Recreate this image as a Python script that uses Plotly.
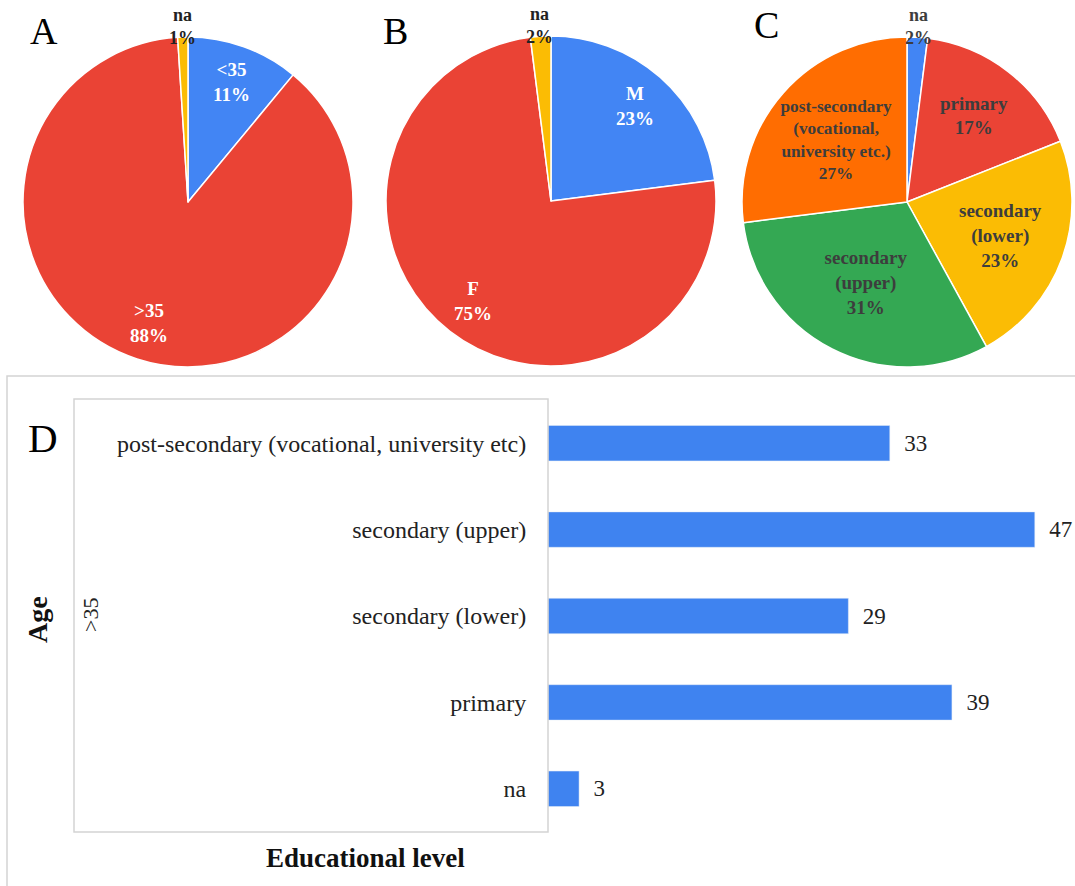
import math
import plotly.graph_objects as go

# ---- data ----
age_labels = ["<35", ">35", "na"]
age_values = [11, 88, 1]

sex_labels = ["M", "F", "na"]
sex_values = [23, 75, 2]

edu_labels = ["na", "primary", "secondary (lower)", "secondary (upper)",
              "post-secondary (vocational, university etc.)"]
edu_text = ["na", "primary", "secondary<br>(lower)", "secondary<br>(upper)",
            "post-secondary<br>(vocational,<br>university etc.)"]
edu_values = [2, 17, 23, 31, 27]

bar_categories = ["post-secondary (vocational, university etc)", "secondary (upper)",
                  "secondary (lower)", "primary", "na"]
bar_values = [33, 47, 29, 39, 3]

# ---- layout helpers ----
W, H = 1075, 886
BLUE, RED, YEL, GRN, ORG = "#4285F4", "#EA4335", "#FBBC04", "#34A853", "#FF6D01"
SERIF = "Liberation Serif"
R = 165


def dom(cx, cy, r):
    return dict(x=[(cx - r) / W, (cx + r) / W], y=[(H - cy - r) / H, (H - cy + r) / H])


def slice_labels(values, labels, cx, cy, frac_in, frac_out, colors, outside, show):
    """Label annotations placed at each slice's mid-angle (clockwise from 12 o'clock)."""
    total = float(sum(values))
    out = []
    cum = 0.0
    for v, lab, col, so, sh in zip(values, labels, colors, outside, show):
        mid = (cum + v / 2.0) / total * 2 * math.pi
        cum += v
        if not sh:
            continue
        f = frac_out if so else frac_in
        x = cx + f * (R - 2) * math.sin(mid)
        y = cy - f * (R - 2) * math.cos(mid)
        out.append(dict(text=f"<b>{lab}<br>{v}%</b>", x=x / W, y=(H - y) / H,
                        xref="paper", yref="paper", showarrow=False,
                        xanchor="center", yanchor="middle",
                        font=dict(family=SERIF, size=18 if so else 19, color=col)))
    return out


fig = go.Figure()

pie_common = dict(sort=False, direction="clockwise", rotation=0, showlegend=False,
                  marker_line_color="white", marker_line_width=1.5,
                  hoverinfo="label+value")

fig.add_trace(go.Pie(labels=age_labels, values=age_values, domain=dom(188, 202, R),
                     marker_colors=[BLUE, RED, YEL], textinfo="none", **pie_common))

fig.add_trace(go.Pie(labels=sex_labels, values=sex_values, domain=dom(551, 201, R),
                     marker_colors=[BLUE, RED, YEL], textinfo="none", **pie_common))

fig.add_trace(go.Pie(labels=edu_labels, values=edu_values, text=edu_text,
                     domain=dom(907, 202, R),
                     marker_colors=[BLUE, RED, YEL, GRN, ORG],
                     texttemplate="<b>%{text}<br>%{value}%</b>",
                     textposition=["none", "inside", "inside", "inside", "inside"],
                     insidetextorientation="horizontal",
                     textfont=dict(family=SERIF, size=19, color="#3d3d3d"),
                     **pie_common))

fig.add_trace(go.Bar(y=bar_categories, x=bar_values, orientation="h",
                     marker_color="#3F83F0", width=0.41,
                     texttemplate="\u00a0\u00a0%{x}", textposition="outside", cliponaxis=False,
                     textfont=dict(family=SERIF, size=23, color="#222222"),
                     showlegend=False))

annotations = []
annotations += slice_labels(age_values, age_labels, 188, 202, 0.78, 1.08,
                            ["white", "white", "#222222"], [False, False, True],
                            [True, True, True])
annotations += slice_labels(sex_values, sex_labels, 551, 201, 0.78, 1.08,
                            ["white", "white", "#222222"], [False, False, True],
                            [True, True, True])
annotations += slice_labels(edu_values, edu_labels, 907, 202, 0.78, 1.08,
                            ["#3d3d3d"] * 5, [True, False, False, False, False],
                            [True, False, False, False, False])

txt = dict(xref="paper", yref="paper", showarrow=False, xanchor="center", yanchor="middle")
annotations += [
    dict(text="A", x=44 / W, y=(H - 31) / H, font=dict(family=SERIF, size=38, color="black"), **txt),
    dict(text="B", x=395 / W, y=(H - 31) / H, font=dict(family=SERIF, size=38, color="black"), **txt),
    dict(text="C", x=766 / W, y=(H - 25) / H, font=dict(family=SERIF, size=38, color="black"), **txt),
    dict(text="D", x=43 / W, y=(H - 438) / H, font=dict(family=SERIF, size=41, color="black"), **txt),
    dict(text="<b>Age</b>", x=37 / W, y=(H - 620) / H, textangle=-90,
         font=dict(family=SERIF, size=28, color="#111111"), **txt),
    dict(text=">35", x=90 / W, y=(H - 615) / H, textangle=-90,
         font=dict(family=SERIF, size=22, color="#222222"), **txt),
    dict(text="<b>Educational level</b>", x=365 / W, y=(H - 858) / H,
         font=dict(family=SERIF, size=27, color="#111111"), **txt),
]

fig.update_layout(
    width=W, height=H, margin=dict(l=0, r=0, t=0, b=0),
    paper_bgcolor="white", plot_bgcolor="white",
    font=dict(family=SERIF, color="#222222"),
    xaxis=dict(domain=[548 / W, 1070 / W], range=[0, 50.4], visible=False),
    yaxis=dict(domain=[(H - 832) / H, (H - 400) / H], autorange="reversed",
               showline=False, showgrid=False, ticks="outside", ticklen=16,
               tickcolor="rgba(0,0,0,0)", tickfont=dict(family=SERIF, size=24, color="#222222")),
    shapes=[
        dict(type="rect", xref="paper", yref="paper",
             x0=74 / W, x1=548 / W, y0=(H - 832) / H, y1=(H - 399) / H,
             line=dict(color="#d4d4d4", width=1.5)),
        dict(type="rect", xref="paper", yref="paper",
             x0=7 / W, x1=1.02, y0=-0.02, y1=(H - 376) / H,
             line=dict(color="#d4d4d4", width=1.5)),
    ],
    annotations=annotations,
)

fig.write_html("out.html", config={"displayModeBar": False},
               post_script="document.body.style.margin='0';document.body.style.overflow='hidden';")
